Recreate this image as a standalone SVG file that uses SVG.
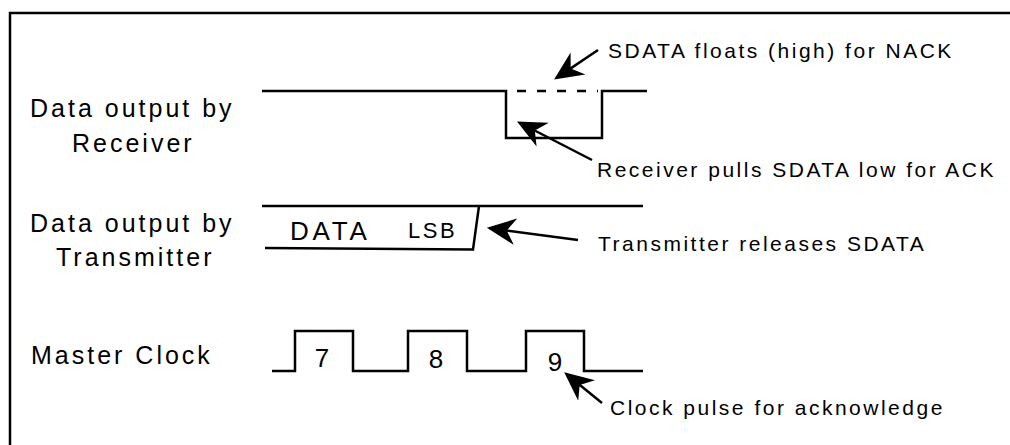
<svg xmlns="http://www.w3.org/2000/svg" width="1010" height="445" viewBox="0 0 1010 445">
<style>
text{font-family:"Liberation Sans",Arial,sans-serif;fill:#000}
.lbl{font-size:25px;letter-spacing:3px}
.ann{font-size:21px;letter-spacing:2.5px}
.dig{font-size:26px;text-anchor:middle}
.wave{fill:none;stroke:#000;stroke-width:2.5;stroke-linejoin:miter}
.arr{fill:none;stroke:#000;stroke-width:2.5;marker-end:url(#head)}
</style>
<defs>
<marker id="head" markerUnits="userSpaceOnUse" markerWidth="30" markerHeight="30" viewBox="0 -13 27 26" refX="16" refY="0" orient="auto">
<path d="M0,-12 L26,0 L0,12 L8,0 Z" fill="#000"/>
</marker>
</defs>
<rect x="0" y="0" width="1010" height="445" fill="#fff"/>
<rect id="frame" x="10" y="13" width="1010" height="445" fill="none" stroke="#000" stroke-width="2.5"/>

<g id="label-receiver">
<text class="lbl" x="30" y="117">Data output by</text>
<text class="lbl" x="72" y="152">Receiver</text>
</g>
<g id="label-transmitter">
<text class="lbl" x="30" y="232">Data output by</text>
<text class="lbl" x="56" y="266">Transmitter</text>
</g>
<g id="label-clock">
<text class="lbl" x="31" y="364">Master Clock</text>
</g>

<g id="wave-receiver">
<path class="wave" d="M262,91 L506,91 L506,138 L602,138 L602,91 L647,91"/>
<path class="wave" d="M517,91 L598,91" stroke-dasharray="9,11"/>
</g>
<g id="wave-transmitter">
<path class="wave" d="M262,206 L643,206"/>
<path class="wave" d="M265,248 L473,249.5 L479,206"/>
<text x="290" y="240" style="font-size:26px;letter-spacing:3.8px">DATA</text>
<text x="408" y="238" style="font-size:22px;letter-spacing:2.5px">LSB</text>
</g>
<g id="wave-clock">
<path class="wave" d="M272,371 L295,371 L295,331 L353,331 L353,371 L408,371 L408,331 L467,331 L467,371 L526,371 L526,331 L584,331 L584,371 L643,371"/>
<text class="dig" x="322" y="367">7</text>
<text class="dig" x="436" y="368">8</text>
<text class="dig" x="555" y="371">9</text>
</g>

<g id="note-nack"><text class="ann" x="608" y="58">SDATA floats (high) for NACK</text></g>
<g id="note-ack"><text class="ann" x="597" y="177">Receiver pulls SDATA low for ACK</text></g>
<g id="note-release"><text class="ann" x="598" y="251">Transmitter releases SDATA</text></g>
<g id="note-clock"><text class="ann" x="610" y="415">Clock pulse for acknowledge</text></g>

<g id="connectors">
<path class="arr" d="M598,50 L563.3,73.4"/>
<path class="arr" d="M592,160 L526.9,126.5"/>
<path class="arr" d="M578,240 L497.9,229.3"/>
<path class="arr" d="M602,403 L572.8,379.3"/>
</g>
</svg>
